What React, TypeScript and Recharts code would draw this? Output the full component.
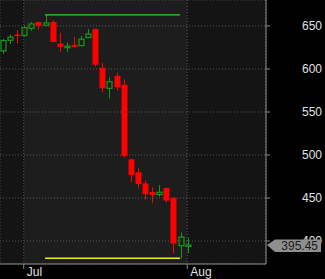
import {
  ComposedChart,
  Bar,
  Line,
  XAxis,
  YAxis,
  CartesianGrid,
  ReferenceArea,
  ReferenceLine,
} from "recharts";

// daily candles, late June -> 1 Aug
const OPEN = [
  621, 633.4, 640, 639, 647.3, 654.6, 650.8, 654.6, 629.5, 626, 628, 627.2, 636.5, 646.5,
  601.4, 577.5, 592, 581.7, 495, 479.9, 467, 457, 454, 461.7, 450, 394.6, 395,
];
const HIGH = [
  635, 640, 645, 650, 654.6, 655, 663, 657, 642, 630.7, 637, 638.4, 646.5, 647,
  607, 590, 595.6, 588, 496, 484.5, 470, 462.5, 464.8, 462, 451, 410, 404,
];
const LOW = [
  617.6, 629, 629.5, 637.6, 644.6, 646, 650, 631, 620, 620, 625, 627, 636.5, 603,
  573, 565.8, 575, 497, 468.6, 461, 448, 444, 451.7, 444.8, 385.6, 380, 386,
];
const CLOSE = [
  633, 637, 639, 648, 652.3, 650.3, 653.5, 631.5, 625.7, 626.5, 625.7, 634.6, 640.7, 604.9,
  577.5, 585.2, 578.6, 498.7, 476.7, 466.3, 454.4, 453.6, 456.7, 447, 397, 404.6, 395.45,
];

const MONTH_TICKS = [3, 26];
const MONTH_LABELS = ["Jul", "Aug"];
const PRICE_TICKS = [400, 450, 500, 550, 600, 650];
const LAST_PRICE = 395.45;
const RANGE_HIGH = 663;
const RANGE_LOW = 380;
const RANGE_FROM = 6;
const RANGE_TO = 25;

const data = OPEN.map((o, i) => ({
  i,
  open: o,
  high: HIGH[i],
  low: LOW[i],
  close: CLOSE[i],
}));

const Y_DOMAIN = [373.3, 680.2];
const RED = "#ff0000";
const GREEN = "#169a16";
const AXIS = "#8c8c8c";
const FONT = "'Liberation Sans', Arial, sans-serif";
const AXIS_X = 266; // plot right edge = price axis line

const Candle = (props: any) => {
  const { x, y, width, height, payload } = props;
  if (x == null || y == null) return null;
  const top0 = height >= 0 ? y : y + height;
  const h = Math.abs(height);
  const { open, close, high, low } = payload;
  const k = h / (high - low || 1);
  const py = (v: number) => top0 + (high - v) * k;
  const cx = Math.round(x + width / 2) + 0.5;
  const up = close >= open;
  const color = up ? GREEN : RED;
  const bt = py(Math.max(open, close));
  const bb = py(Math.min(open, close));
  const bh = Math.max(bb - bt, 1.5);
  if (up) {
    return (
      <g>
        <line x1={cx} x2={cx} y1={top0} y2={bt} stroke={color} strokeWidth={1} />
        <line x1={cx} x2={cx} y1={bt + bh} y2={top0 + h} stroke={color} strokeWidth={1} />
        <rect x={cx - 2.5} y={bt} width={5} height={bh} fill="none" stroke={color} strokeWidth={1.2} />
      </g>
    );
  }
  return (
    <g>
      <line x1={cx} x2={cx} y1={top0} y2={top0 + h} stroke={color} strokeWidth={1} />
      <rect x={cx - 3} y={bt} width={6} height={bh} fill={color} />
    </g>
  );
};

const PriceTick = (props: any) => {
  const { y, payload } = props;
  return (
    <text x={322} y={y} textAnchor="end" dominantBaseline="central" fill="#e0e0e0" fontSize={12} fontFamily={FONT}>
      {payload.value}
    </text>
  );
};

const MonthTick = (props: any) => {
  const { x, payload } = props;
  const idx = MONTH_TICKS.indexOf(payload.value);
  return (
    <text x={x + 3} y={276} textAnchor="start" fill="#e0e0e0" fontSize={12} fontFamily={FONT}>
      {MONTH_LABELS[idx]}
    </text>
  );
};

// last-price flag, drawn by a second (later) price axis so it sits over the 400 label
const BadgeTick = (props: any) => {
  const { y, payload } = props;
  const left = AXIS_X + 1;
  return (
    <g>
      <polygon
        points={`${left},${y} ${left + 8},${y - 5.5} ${left + 54},${y - 5.5} ${left + 54},${y + 7} ${left + 8},${y + 7}`}
        fill="#8f8f8f"
      />
      <text x={left + 51} y={y + 1} textAnchor="end" dominantBaseline="central" fill="#1a1a1a" fontSize={12} fontFamily={FONT}>
        {Number(payload.value).toFixed(2)}
      </text>
    </g>
  );
};

export default function App() {
  return (
    <div style={{ width: 325, height: 279, background: "#000" }}>
      <style>{"html,body{margin:0;background:#000}"}</style>
      <ComposedChart width={325} height={279} data={data} margin={{ top: 0, right: 0, bottom: 0, left: 0 }}>
        <CartesianGrid fill="#141414" stroke="#555" strokeDasharray="1 2" />
        <ReferenceArea x1={MONTH_TICKS[0]} x2={MONTH_TICKS[1]} fill="#ffffff" fillOpacity={0.04} stroke="none" />
        <XAxis
          type="number"
          dataKey="i"
          domain={[-0.34, 37.08]}
          ticks={MONTH_TICKS}
          allowDataOverflow
          height={15}
          stroke={AXIS}
          tickSize={5}
          tick={<MonthTick />}
        />
        <YAxis
          orientation="right"
          domain={Y_DOMAIN}
          ticks={PRICE_TICKS}
          allowDataOverflow
          width={58}
          stroke={AXIS}
          tickSize={4}
          tick={<PriceTick />}
        />
        <YAxis
          yAxisId="flag"
          orientation="right"
          domain={Y_DOMAIN}
          ticks={[LAST_PRICE]}
          allowDataOverflow
          interval={0}
          width={1}
          axisLine={false}
          tickLine={false}
          tick={<BadgeTick />}
        />
        <Bar
          dataKey={(d: any) => [d.low, d.high]}
          barSize={6}
          shape={<Candle />}
          isAnimationActive={false}
        />
        <Line
          yAxisId="flag"
          dataKey="close"
          stroke="none"
          dot={false}
          activeDot={false}
          isAnimationActive={false}
        />
        <ReferenceLine
          segment={[{ x: RANGE_FROM, y: RANGE_HIGH }, { x: RANGE_TO, y: RANGE_HIGH }]}
          stroke="#2fd22f"
          strokeWidth={1.2}
          ifOverflow="visible"
        />
        <ReferenceLine
          segment={[{ x: RANGE_FROM, y: RANGE_LOW }, { x: RANGE_TO, y: RANGE_LOW }]}
          stroke="#f2f200"
          strokeWidth={1.5}
          ifOverflow="visible"
        />
      </ComposedChart>
    </div>
  );
}
